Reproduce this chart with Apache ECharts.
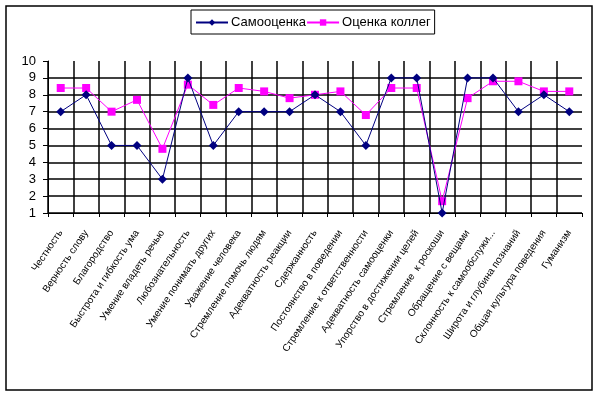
<!DOCTYPE html>
<html><head><meta charset="utf-8">
<script src="https://cdn.jsdelivr.net/npm/echarts@6/dist/echarts.min.js"></script>
<style>html,body{margin:0;padding:0;background:#fff}#c{width:600px;height:398px}</style>
</head><body><div id="c"></div>
<script>
const categories = ["Честность","Верность слову","Благородство","Быстрота и гибкость ума","Умение владеть речью","Любознательность","Умение понимать других","Уважение человека","Стремление помочь людям","Адекватность реакции","Сдержанность","Постоянство в поведении","Стремление к ответственности","Адекватность самооценки","Упорство в достижении целей","Стремление  к роскоши","Обращение с вещами","Склонность к самообслужи...","Широта и глубина познаний","Общая культура поведения","Гуманизм"];
const selfScore = [7,8,5,5,3,9,5,7,7,7,8,7,5,9,9,1,9,9,7,8,7];
const peerScore = [8.4,8.4,7.0,7.7,4.8,8.6,7.4,8.4,8.2,7.8,8.0,8.2,6.8,8.4,8.4,1.7,7.8,8.8,8.8,8.2,8.2];
const seriesNames = ["Самооценка","Оценка коллег"];

const chart = echarts.init(document.getElementById('c'), null, {renderer:'canvas'});
const font = 'Liberation Sans, Arial, sans-serif';
const xSplitColors = categories.map(() => '#000').concat(['rgba(0,0,0,0)']);
chart.setOption({
  animation:false,
  backgroundColor:'#fff',
  graphic:[{type:'rect',shape:{x:6,y:6,width:586,height:384},style:{fill:'none',stroke:'#000',lineWidth:1.5},silent:true}],
  legend:{
    left:191, top:10, itemWidth:32, itemHeight:8, itemGap:0,
    padding:[6,4,5,4], borderColor:'#000', borderWidth:1,
    textStyle:{fontFamily:font,fontSize:13,color:'#000',padding:[0,0,0,-2]},
    data:seriesNames
  },
  grid:{left:48,right:18,top:61,bottom:185,containLabel:false},
  xAxis:{
    type:'category', data:categories, boundaryGap:true,
    axisLine:{lineStyle:{color:'#000',width:1}},
    axisTick:{show:true,length:4,lineStyle:{color:'#000'}},
    splitLine:{show:true,lineStyle:{color:xSplitColors,width:1.5}},
    axisLabel:{rotate:56,interval:0,fontFamily:font,fontSize:10,color:'#000',margin:18}
  },
  yAxis:{
    type:'value', min:1, max:10, interval:1,
    axisLine:{show:true,lineStyle:{color:'#000',width:1}},
    axisTick:{show:true,length:5,lineStyle:{color:'#000'}},
    splitLine:{show:true,lineStyle:{color:['#000','#000','#000','#000','#000','#000','#000','#000','#000','rgba(0,0,0,0)'],width:1.5}},
    axisLabel:{fontFamily:font,fontSize:13,color:'#000',margin:12}
  },
  series:[
    {name:seriesNames[0],type:'line',data:selfScore,symbol:'diamond',symbolSize:9,
     lineStyle:{color:'#000080',width:1},itemStyle:{color:'#000080'},z:3},
    {name:seriesNames[1],type:'line',data:peerScore,symbol:'rect',symbolSize:8,
     lineStyle:{color:'#FF00FF',width:1},itemStyle:{color:'#FF00FF'},z:2}
  ]
});
</script></body></html>
